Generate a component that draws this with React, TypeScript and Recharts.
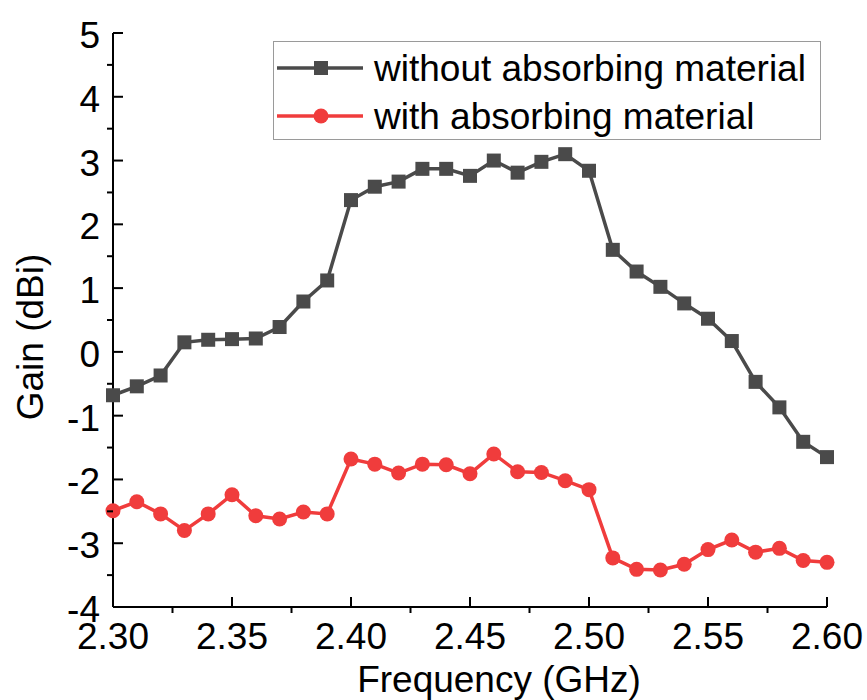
import React from "react";
import {
  LineChart,
  Line,
  XAxis,
  YAxis,
  Legend,
  Label,
} from "recharts";

const FONT = '"Liberation Sans", Arial, sans-serif';

const freq = [
  2.3, 2.31, 2.32, 2.33, 2.34, 2.35, 2.36, 2.37, 2.38, 2.39, 2.4, 2.41, 2.42,
  2.43, 2.44, 2.45, 2.46, 2.47, 2.48, 2.49, 2.5, 2.51, 2.52, 2.53, 2.54, 2.55,
  2.56, 2.57, 2.58, 2.59, 2.6,
];
const withoutAbs = [
  -0.68, -0.54, -0.37, 0.15, 0.19, 0.2, 0.21, 0.39, 0.79, 1.12, 2.38, 2.59,
  2.67, 2.87, 2.87, 2.76, 3.0, 2.81, 2.98, 3.1, 2.84, 1.6, 1.26, 1.02, 0.76,
  0.52, 0.17, -0.47, -0.87, -1.41, -1.65,
];
const withAbs = [
  -2.49, -2.35, -2.54, -2.8, -2.54, -2.24, -2.57, -2.62, -2.51, -2.54, -1.68,
  -1.76, -1.9, -1.76, -1.77, -1.91, -1.6, -1.88, -1.89, -2.02, -2.16, -3.23,
  -3.41, -3.42, -3.33, -3.1, -2.95, -3.14, -3.08, -3.27, -3.3,
];

const xMajor = [2.3, 2.35, 2.4, 2.45, 2.5, 2.55, 2.6];
const xMinor = [2.325, 2.375, 2.425, 2.475, 2.525, 2.575];
const yMajor = [-4, -3, -2, -1, 0, 1, 2, 3, 4, 5];
const yMinor = [-3.5, -2.5, -1.5, -0.5, 0.5, 1.5, 2.5, 3.5, 4.5];

const xTicks = [...xMajor, ...xMinor].sort((a, b) => a - b);
const yTicks = [...yMajor, ...yMinor].sort((a, b) => a - b);

const series = [
  { key: "without", name: "without absorbing material", color: "#4a4a4a", shape: "square" },
  { key: "with", name: "with absorbing material", color: "#f03c3c", shape: "circle" },
];

const data = freq.map((f, i) => ({
  f,
  without: withoutAbs[i],
  with: withAbs[i],
}));

const isIn = (list: number[], v: number) => list.some((t) => Math.abs(t - v) < 1e-6);

const MAJOR = 10;
const MINOR = 6;

function BottomTick(props: any) {
  const { x, y, payload } = props;
  const major = isIn(xMajor, payload.value);
  return (
    <g>
      <line x1={x} x2={x} y1={y} y2={major ? y - MAJOR : y + MINOR} stroke="#000" strokeWidth={2} />
      {major && (
        <text x={x} y={y + 42} textAnchor="middle" fontSize={37} fontFamily={FONT} fill="#000">
          {payload.value.toFixed(2)}
        </text>
      )}
    </g>
  );
}

function TopTick(props: any) {
  const { x, y, payload } = props;
  const major = isIn(xMajor, payload.value);
  return <line x1={x} x2={x} y1={y} y2={major ? y + MAJOR : y - MINOR} stroke="#000" strokeWidth={2} />;
}

function LeftTick(props: any) {
  const { x, y, payload } = props;
  const major = isIn(yMajor, payload.value);
  return (
    <g>
      <line x1={x} x2={major ? x + MAJOR : x - MINOR} y1={y} y2={y} stroke="#000" strokeWidth={2} />
      {major && (
        <text x={x - 13} y={y + 15} textAnchor="end" fontSize={37} fontFamily={FONT} fill="#000">
          {payload.value}
        </text>
      )}
    </g>
  );
}

function RightTick(props: any) {
  const { x, y, payload } = props;
  const major = isIn(yMajor, payload.value);
  return <line x1={x} x2={major ? x - MAJOR : x + MINOR} y1={y} y2={y} stroke="#000" strokeWidth={2} />;
}

function SquareDot(props: any) {
  const { cx, cy, stroke } = props;
  if (cx == null || cy == null) return null;
  return <rect x={cx - 7} y={cy - 7} width={14} height={14} fill={stroke} />;
}

function CircleDot(props: any) {
  const { cx, cy, stroke } = props;
  if (cx == null || cy == null) return null;
  return <circle cx={cx} cy={cy} r={7.5} fill={stroke} />;
}

function LegendBox() {
  return (
    <svg width={546} height={97} style={{ display: "block" }}>
      {series.map((s, i) => {
        const cy = 26 + i * 48;
        return (
          <g key={s.key}>
            <line x1={3} x2={89} y1={cy} y2={cy} stroke={s.color} strokeWidth={3.5} />
            {s.shape === "square" ? (
              <rect x={40} y={cy - 7} width={14} height={14} fill={s.color} />
            ) : (
              <circle cx={47} cy={cy} r={7.5} fill={s.color} />
            )}
            <text x={100} y={cy + 13} fontSize={37} fontFamily={FONT} fill="#000">
              {s.name}
            </text>
          </g>
        );
      })}
    </svg>
  );
}

export default function App() {
  return (
    <div style={{ width: 867, height: 700, background: "#fff", position: "relative" }}>
      <style>{"body{margin:0;background:#fff}"}</style>
      <LineChart
        width={867}
        height={700}
        data={data}
        margin={{ top: 33, right: 40, left: 0, bottom: 0 }}
      >
        <XAxis
          xAxisId="x"
          dataKey="f"
          type="number"
          domain={[2.3, 2.6]}
          ticks={xTicks}
          interval={0}
          height={93}
          tickSize={0}
          tickMargin={0}
          tickLine={false}
          tick={<BottomTick />}
          axisLine={{ stroke: "#000", strokeWidth: 2 }}
        >
          <Label
            content={() => (
              <text x={499} y={692} textAnchor="middle" fontSize={37} fontFamily={FONT} fill="#000">
                Frequency (GHz)
              </text>
            )}
          />
        </XAxis>
        <XAxis
          xAxisId="top"
          orientation="top"
          dataKey="f"
          type="number"
          domain={[2.3, 2.6]}
          ticks={xTicks}
          interval={0}
          height={0}
          tickSize={0}
          tickMargin={0}
          tickLine={false}
          tick={<TopTick />}
          axisLine={{ stroke: "#000", strokeWidth: 2 }}
        />
        <YAxis
          yAxisId="y"
          type="number"
          domain={[-4, 5]}
          ticks={yTicks}
          interval={0}
          width={113}
          tickSize={0}
          tickMargin={0}
          tickLine={false}
          tick={<LeftTick />}
          axisLine={{ stroke: "#000", strokeWidth: 2 }}
        >
          <Label
            content={() => (
              <text
                x={43}
                y={337}
                transform="rotate(-90 43 337)"
                textAnchor="middle"
                fontSize={37}
                fontFamily={FONT}
                fill="#000"
              >
                Gain (dBi)
              </text>
            )}
          />
        </YAxis>
        <YAxis
          yAxisId="right"
          orientation="right"
          type="number"
          domain={[-4, 5]}
          ticks={yTicks}
          interval={0}
          width={0}
          tickSize={0}
          tickMargin={0}
          tickLine={false}
          tick={<RightTick />}
          axisLine={{ stroke: "#000", strokeWidth: 2 }}
        />
        <Legend
          layout="vertical"
          align="center"
          verticalAlign="middle"
          content={() => <LegendBox />}
          wrapperStyle={{
            left: 273,
            top: 41,
            width: 546,
            height: 97,
            border: "1px solid #9a9a9a",
            background: "#fff",
          }}
        />
        {series.map((s) => (
          <Line
            key={s.key}
            xAxisId="x"
            yAxisId="y"
            dataKey={s.key}
            name={s.name}
            type="linear"
            stroke={s.color}
            strokeWidth={3.5}
            dot={s.shape === "square" ? <SquareDot /> : <CircleDot />}
            activeDot={false}
            isAnimationActive={false}
          />
        ))}
      </LineChart>
    </div>
  );
}
